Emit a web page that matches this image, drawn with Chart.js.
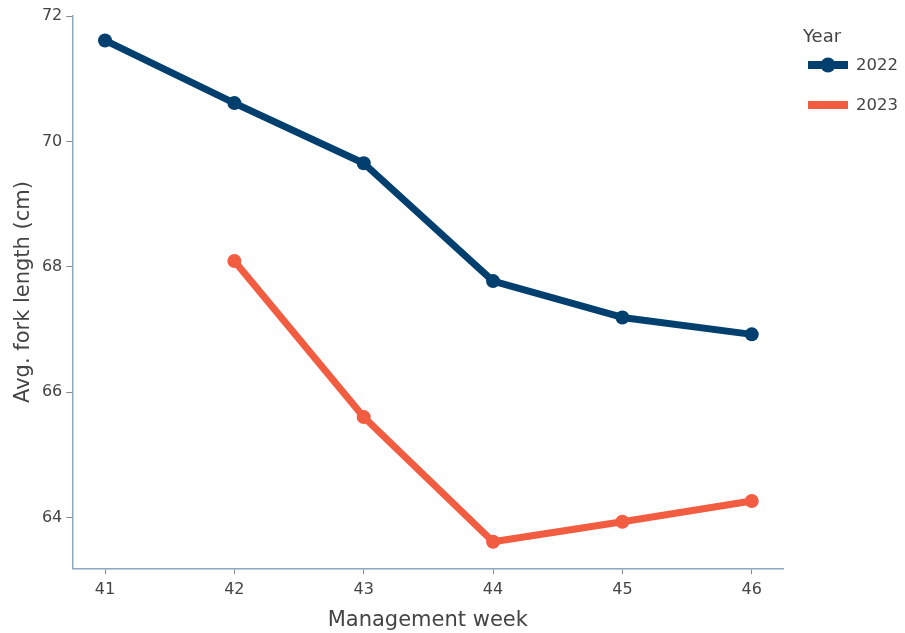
<!DOCTYPE html>
<html>
<head>
<meta charset="utf-8">
<script src="https://cdn.jsdelivr.net/npm/chart.js@4"></script>
<style>
  html, body { margin: 0; padding: 0; background: #fff; }
  #wrap { width: 905px; height: 633px; position: relative; }
</style>
</head>
<body>
<div id="wrap"><canvas id="c" width="905" height="633"></canvas></div>
<script>
// ---- data ----
const legendTitle = 'Year';
const seriesLabels = ['2022', '2023'];
const weeks2022 = [41, 42, 43, 44, 45, 46];
const values2022 = [71.61, 70.61, 69.65, 67.77, 67.19, 66.92];
const weeks2023 = [42, 43, 44, 45, 46];
const values2023 = [68.09, 65.60, 63.61, 63.93, 64.26];
const xTickValues = [41, 42, 43, 44, 45, 46];
const yTickValues = [64, 66, 68, 70, 72];
const xTitle = 'Management week';
const yTitle = 'Avg. fork length (cm)';

const colors = ['#003f6e', '#f25c40'];
const legendMarkers = [true, false];
const FONT = '"DejaVu Sans", Verdana, sans-serif';

const sideLegend = {
  id: 'sideLegend',
  afterDraw(chart) {
    const ctx = chart.ctx;
    ctx.save();
    ctx.textBaseline = 'middle';
    ctx.textAlign = 'left';
    ctx.fillStyle = '#444';
    ctx.font = '18px ' + FONT;
    ctx.fillText(legendTitle, 803, 37);
    ctx.font = '16.5px ' + FONT;
    chart.data.datasets.forEach((ds, i) => {
      const y = 65 + i * 40;
      ctx.strokeStyle = ds.borderColor;
      ctx.lineWidth = 8;
      ctx.lineCap = 'butt';
      ctx.beginPath();
      ctx.moveTo(808, y);
      ctx.lineTo(848, y);
      ctx.stroke();
      if (legendMarkers[i]) {
        ctx.fillStyle = ds.borderColor;
        ctx.beginPath();
        ctx.arc(828, y, 7.5, 0, Math.PI * 2);
        ctx.fill();
      }
      ctx.fillStyle = '#444';
      ctx.fillText(ds.label, 856, y + 1);
    });
    ctx.restore();
  }
};

new Chart(document.getElementById('c'), {
  type: 'line',
  data: {
    datasets: [
      {
        label: seriesLabels[0],
        data: weeks2022.map((w, i) => ({ x: w, y: values2022[i] })),
        borderColor: colors[0],
        backgroundColor: colors[0],
        pointBackgroundColor: colors[0],
        borderWidth: 7,
        pointRadius: 7,
        pointBorderWidth: 0,
        borderJoinStyle: 'round',
        borderCapStyle: 'round',
        fill: false
      },
      {
        label: seriesLabels[1],
        data: weeks2023.map((w, i) => ({ x: w, y: values2023[i] })),
        borderColor: colors[1],
        backgroundColor: colors[1],
        pointBackgroundColor: colors[1],
        borderWidth: 7,
        pointRadius: 7,
        pointBorderWidth: 0,
        borderJoinStyle: 'round',
        borderCapStyle: 'round',
        fill: false
      }
    ]
  },
  options: {
    responsive: false,
    animation: false,
    events: [],
    layout: { padding: { top: 15.7, right: 121.7, left: 0, bottom: 0 } },
    plugins: {
      legend: { display: false },
      tooltip: { enabled: false }
    },
    scales: {
      x: {
        type: 'linear',
        min: 40.747,
        max: 46.244,
        afterBuildTicks(scale) { scale.ticks = xTickValues.map(v => ({ value: v })); },
        afterFit(scale) { scale.height = 633 - 568.3; },
        border: { display: true, color: '#8aa8c6', width: 1.5 },
        grid: { drawOnChartArea: false, drawTicks: true, tickLength: 6, color: '#8a8a8a', lineWidth: 1 },
        ticks: { color: '#444', font: { family: FONT, size: 16 }, padding: 6, maxRotation: 0 },
        title: { display: true, text: xTitle, color: '#444', font: { family: FONT, size: 21 }, padding: { top: 0, bottom: 0 } }
      },
      y: {
        type: 'linear',
        min: 63.187,
        max: 72.005,
        afterBuildTicks(scale) { scale.ticks = yTickValues.map(v => ({ value: v })); },
        afterFit(scale) { scale.width = 72.3; },
        border: { display: true, color: '#8aa8c6', width: 1.5 },
        grid: { drawOnChartArea: false, drawTicks: true, tickLength: 6, color: '#8a8a8a', lineWidth: 1 },
        ticks: { color: '#444', font: { family: FONT, size: 16 }, padding: 4 },
        title: { display: true, text: yTitle, color: '#444', font: { family: FONT, size: 21 }, padding: { top: 11, bottom: 0 } }
      }
    }
  },
  plugins: [sideLegend]
});
</script>
</body>
</html>
